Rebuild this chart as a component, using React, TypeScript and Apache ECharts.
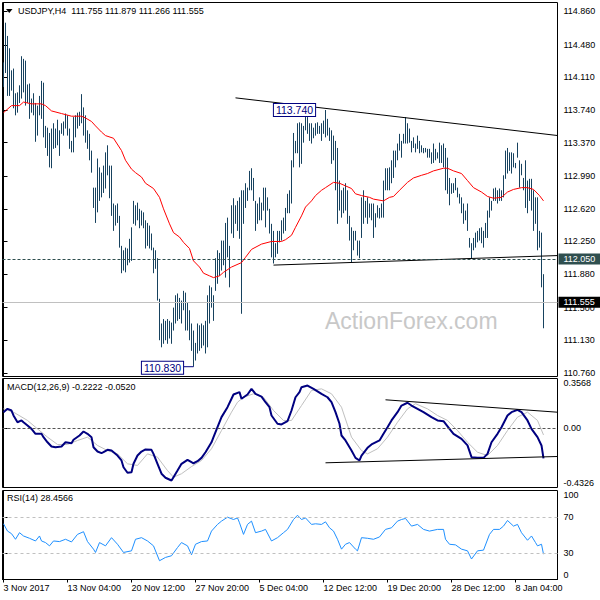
import React, { useEffect, useRef } from "react";
import * as echarts from "echarts";

// ---------- data ----------
const symbolTitle = "USDJPY,H4";
const lastOpen = 111.755;
const lastClose = 111.555;

// bar highs, one per H4 bar (271 bars)
const highs = [
  114.28, 114.73, 114.58, 114.44, 114.19, 114.21, 113.93, 113.94, 114.02, 114.35,
  114.32, 114.30, 114.03, 114.04, 113.87, 113.93, 113.82, 113.79, 113.90, 114.07,
  114.05, 113.56, 113.54, 113.48, 113.53, 113.59, 113.53, 113.63, 113.51, 113.59,
  113.61, 113.70, 113.68, 113.53, 113.39, 113.66, 113.68, 113.71, 113.72, 113.92,
  113.77, 113.68, 113.51, 113.47, 113.28, 112.86, 112.86, 113.19, 113.09, 113.03,
  113.11, 113.26, 113.34, 113.11, 113.11, 112.68, 112.66, 112.68, 112.54, 112.20,
  112.15, 112.18, 112.17, 112.28, 112.41, 112.71, 112.66, 112.69, 112.62, 112.60,
  112.58, 112.49, 112.46, 112.43, 112.34, 112.18, 112.15, 112.06, 111.60, 111.32,
  111.37, 111.35, 111.37, 111.35, 111.33, 111.50, 111.64, 111.66, 111.61, 111.58,
  111.69, 111.67, 111.56, 111.47, 111.32, 111.24, 111.10, 111.32, 111.30, 111.32,
  111.30, 111.35, 111.64, 111.75, 111.73, 111.64, 112.06, 112.15, 112.12, 112.26,
  112.26, 112.46, 112.52, 112.20, 112.66, 112.74, 112.66, 112.71, 112.75, 112.83,
  112.83, 112.91, 112.86, 113.05, 113.08, 112.97, 112.71, 112.68, 112.75, 112.69,
  112.86, 112.86, 112.75, 112.62, 112.45, 112.37, 112.23, 112.37, 112.37, 112.49,
  112.52, 112.63, 112.79, 112.83, 113.17, 113.48, 113.39, 113.59, 113.60, 113.59,
  113.56, 113.70, 113.66, 113.59, 113.59, 113.54, 113.59, 113.60, 113.56, 113.59,
  113.62, 113.74, 113.64, 113.54, 113.51, 113.45, 113.39, 113.31, 112.94, 112.83,
  112.86, 112.91, 112.83, 112.54, 112.41, 112.37, 112.37, 112.26, 112.26, 112.75,
  112.83, 112.71, 112.75, 112.68, 112.68, 112.68, 112.57, 112.66, 112.63, 112.68,
  112.94, 113.08, 113.08, 113.09, 113.17, 113.28, 113.28, 113.36, 113.47, 113.39,
  113.47, 113.66, 113.59, 113.53, 113.39, 113.43, 113.36, 113.45, 113.39, 113.34,
  113.31, 113.31, 113.30, 113.30, 113.26, 113.36, 113.30, 113.26, 113.37, 113.34,
  113.36, 113.31, 113.20, 112.97, 112.91, 112.91, 112.97, 112.86, 112.79, 112.75,
  112.68, 112.60, 112.68, 112.29, 112.23, 112.29, 112.35, 112.37, 112.40, 112.41,
  112.37, 112.46, 112.60, 112.75, 112.71, 112.85, 112.86, 112.83, 112.85, 112.83,
  113.00, 113.28, 113.31, 113.26, 113.26, 113.25, 113.14, 113.37, 113.17, 113.13,
  112.97, 113.17, 112.94, 112.96, 112.96, 112.83, 112.75, 112.75, 112.37, 112.35,
  111.879,
];

const lows = [
  114.00, 114.16, 113.90, 113.90, 113.96, 113.76, 113.68, 113.71, 113.82, 113.87,
  113.94, 113.79, 113.82, 113.64, 113.71, 113.68, 113.38, 113.45, 113.68, 113.64,
  113.43, 113.31, 113.22, 113.09, 113.08, 113.30, 113.31, 113.34, 113.22, 113.47,
  113.45, 113.53, 113.45, 113.30, 113.26, 113.26, 113.43, 113.53, 113.56, 113.59,
  113.45, 113.37, 113.30, 113.17, 113.03, 112.63, 112.46, 112.58, 112.71, 112.75,
  112.80, 112.85, 113.00, 112.74, 112.54, 112.37, 112.43, 112.46, 112.18, 111.89,
  111.92, 111.90, 111.98, 112.01, 112.03, 112.45, 112.43, 112.49, 112.40, 112.43,
  112.40, 112.17, 112.20, 112.17, 112.15, 111.89, 111.94, 111.58, 111.13, 111.05,
  111.09, 111.13, 111.09, 111.15, 111.09, 111.24, 111.32, 111.35, 111.37, 111.32,
  111.47, 111.24, 111.24, 111.13, 111.01, 110.83, 110.90, 110.98, 111.01, 111.04,
  111.07, 110.98, 111.05, 111.32, 111.50, 111.35, 111.69, 111.77, 111.86, 111.92,
  111.98, 111.84, 112.07, 111.73, 112.34, 112.29, 112.45, 112.37, 112.28, 111.43,
  112.45, 112.63, 112.71, 112.83, 112.83, 112.71, 112.37, 112.45, 112.49, 112.49,
  112.60, 112.41, 112.60, 112.34, 112.07, 112.00, 112.07, 112.11, 112.24, 112.26,
  112.34, 112.37, 112.57, 112.57, 112.68, 113.09, 113.25, 113.25, 113.09, 113.13,
  113.37, 113.51, 113.47, 113.39, 113.36, 113.42, 113.45, 113.47, 113.47, 113.39,
  113.47, 113.43, 113.45, 113.39, 113.13, 113.17, 112.83, 112.45, 112.60, 112.52,
  112.57, 112.60, 112.45, 112.26, 112.01, 112.15, 112.26, 112.09, 112.06, 112.29,
  112.45, 112.52, 112.45, 112.52, 112.49, 112.29, 112.41, 112.52, 112.51, 112.52,
  112.52, 112.83, 112.83, 112.83, 112.91, 112.97, 113.09, 113.17, 113.28, 113.20,
  113.36, 113.36, 113.36, 113.37, 113.26, 113.31, 113.26, 113.30, 113.25, 113.26,
  113.25, 113.26, 113.20, 113.20, 113.13, 113.14, 113.17, 113.19, 113.14, 113.14,
  113.09, 112.83, 112.79, 112.66, 112.79, 112.80, 112.83, 112.75, 112.68, 112.57,
  112.45, 112.49, 112.37, 112.18, 112.06, 112.15, 112.18, 112.24, 112.26, 112.23,
  112.18, 112.29, 112.29, 112.52, 112.60, 112.71, 112.71, 112.68, 112.71, 112.71,
  112.75, 112.96, 113.02, 113.05, 113.02, 113.09, 113.08, 113.20, 112.86, 113.00,
  112.83, 112.63, 112.57, 112.71, 112.60, 112.37, 112.45, 112.15, 112.18, 111.73,
  111.266,
];

// moving average [bar, price]
const maPoints = [
  [0, 113.71], [4, 113.79], [8, 113.79], [10, 113.83], [14, 113.81], [19, 113.81], [21, 113.79],
  [24, 113.73], [29, 113.7], [34, 113.67], [39, 113.67], [41, 113.65], [44, 113.61], [46, 113.56],
  [49, 113.49], [51, 113.45], [55, 113.42], [59, 113.28], [61, 113.17], [64, 113.07], [66, 113.03],
  [69, 112.98], [71, 112.91], [75, 112.85], [78, 112.75], [80, 112.62], [83, 112.45], [85, 112.35],
  [88, 112.3], [90, 112.24], [93, 112.17], [95, 112.03], [98, 111.96], [100, 111.89], [103, 111.86],
  [105, 111.84], [108, 111.86], [110, 111.9], [114, 111.96], [119, 112.01], [121, 112.07],
  [124, 112.16], [129, 112.22], [134, 112.25], [139, 112.25], [141, 112.27], [144, 112.32],
  [146, 112.41], [149, 112.54], [151, 112.64], [154, 112.71], [156, 112.77], [159, 112.83],
  [161, 112.86], [165, 112.92], [168, 112.91], [171, 112.88], [174, 112.85], [176, 112.79],
  [179, 112.77], [183, 112.75], [185, 112.73], [190, 112.71], [193, 112.75], [195, 112.76],
  [198, 112.83], [202, 112.92], [205, 112.97], [209, 113.0], [212, 113.02], [215, 113.05],
  [220, 113.08], [222, 113.08], [225, 113.05], [229, 113.02], [232, 112.94], [235, 112.86],
  [239, 112.81], [242, 112.76], [245, 112.74], [249, 112.75], [252, 112.81], [255, 112.84],
  [259, 112.86], [262, 112.86], [265, 112.84], [268, 112.77], [270, 112.71],
];

// MACD main line [bar, value]
const macdPoints = [
  [0, 0.113], [2, 0.137], [4, 0.125], [5, 0.089], [7, 0.04], [9, 0.053], [10, 0.04], [12, 0.016],
  [14, -0.008], [16, -0.044], [19, -0.044], [20, -0.068], [22, -0.105], [24, -0.136], [26, -0.141],
  [29, -0.136], [31, -0.105], [34, -0.112], [35, -0.087], [38, -0.056], [40, -0.027], [42, -0.044],
  [44, -0.068], [45, -0.141], [47, -0.172], [49, -0.184], [50, -0.177], [52, -0.16], [54, -0.165],
  [57, -0.201], [59, -0.237], [60, -0.286], [62, -0.326], [64, -0.322], [65, -0.261], [67, -0.201],
  [69, -0.172], [71, -0.157], [74, -0.16], [75, -0.189], [77, -0.261], [79, -0.333], [81, -0.362],
  [84, -0.382], [85, -0.358], [87, -0.31], [89, -0.261], [92, -0.232], [94, -0.249], [95, -0.257],
  [97, -0.242], [99, -0.218], [101, -0.177], [104, -0.105], [105, -0.068], [107, 0.004], [109, 0.077],
  [112, 0.149], [114, 0.21], [115, 0.241], [118, 0.258], [119, 0.21], [122, 0.241], [124, 0.282],
  [126, 0.246], [129, 0.226], [131, 0.185], [133, 0.149], [134, 0.089], [137, 0.029], [139, 0.024],
  [142, 0.048], [144, 0.125], [146, 0.221], [148, 0.258], [149, 0.294], [152, 0.306], [155, 0.282],
  [159, 0.246], [162, 0.221], [164, 0.185], [166, 0.113], [168, 0.029], [169, -0.056], [171, -0.092],
  [174, -0.165], [176, -0.218], [178, -0.237], [179, -0.201], [182, -0.145], [184, -0.121],
  [188, -0.092], [190, -0.044], [192, 0.004], [194, 0.053], [197, 0.113], [199, 0.161], [202, 0.181],
  [204, 0.161], [207, 0.137], [210, 0.113], [214, 0.077], [217, 0.053], [220, 0.048], [223, -0.008],
  [225, -0.044], [229, -0.08], [232, -0.128], [234, -0.213], [237, -0.218], [240, -0.218],
  [242, -0.189], [244, -0.105], [247, -0.044], [249, 0.004], [252, 0.089], [254, 0.113], [257, 0.13],
  [259, 0.113], [262, 0.053], [264, -0.008], [267, -0.068], [269, -0.128], [270, -0.2222],
];

// MACD signal line [bar, value]
const signalPoints = [
  [0, 0.137], [5, 0.113], [12, 0.053], [17, -0.008], [22, -0.068], [27, -0.121], [32, -0.121],
  [37, -0.092], [42, -0.068], [47, -0.128], [52, -0.165], [57, -0.189], [62, -0.261], [67, -0.273],
  [72, -0.189], [77, -0.213], [82, -0.31], [85, -0.358], [89, -0.333], [94, -0.281], [99, -0.237],
  [104, -0.152], [109, -0.02], [114, 0.113], [117, 0.185], [120, 0.221], [125, 0.246], [130, 0.221],
  [135, 0.125], [140, 0.053], [144, 0.053], [149, 0.161], [154, 0.27], [159, 0.282], [164, 0.246],
  [169, 0.149], [174, -0.068], [179, -0.165], [182, -0.189], [187, -0.152], [192, -0.068],
  [197, 0.04], [202, 0.137], [206, 0.174], [212, 0.137], [217, 0.089], [222, 0.053], [227, -0.02],
  [232, -0.105], [237, -0.177], [242, -0.201], [247, -0.128], [252, -0.02], [257, 0.077],
  [262, 0.113], [267, 0.053], [270, -0.052],
];

// RSI(14) [bar, value]
const rsiPoints = [
  [0, 62.6], [2, 54.4], [4, 51.5], [6, 45.2], [8, 52.6], [10, 48.9], [13, 46.3], [16, 43.3],
  [18, 48.9], [19, 43.3], [21, 41.5], [23, 37.8], [25, 43.3], [28, 42.6], [31, 45.2], [34, 42.2],
  [37, 50.7], [40, 53.7], [42, 42.6], [45, 34.1], [46, 30.4], [48, 41.5], [51, 37.8], [54, 47],
  [57, 39.6], [60, 30.4], [64, 32.2], [66, 45.2], [69, 47], [72, 43.3], [75, 37.8], [78, 21.1],
  [81, 24.8], [84, 26.7], [87, 35.9], [89, 41.5], [92, 37.8], [94, 27.8], [96, 39.6], [99, 42.6],
  [102, 43.3], [104, 54.4], [107, 61.9], [109, 65.6], [112, 70], [115, 67.4], [117, 69.2],
  [118, 63.7], [120, 50.7], [122, 61.9], [124, 65.6], [126, 52.6], [129, 54.4], [131, 56.3],
  [134, 43.3], [137, 47], [140, 52.6], [142, 56.3], [145, 67.4], [147, 72.2], [149, 67.4],
  [151, 69.2], [154, 61.9], [156, 62.6], [159, 61.9], [161, 64.8], [163, 58.1], [165, 54.4],
  [167, 45.2], [169, 34.1], [171, 39.6], [173, 41.5], [176, 34.1], [177, 32.2], [179, 47],
  [182, 46.3], [185, 45.2], [188, 47.8], [191, 56.3], [194, 58.1], [197, 65.6], [199, 67.4],
  [201, 68.6], [204, 60], [207, 61.9], [210, 56.3], [213, 54.4], [217, 56.3], [220, 56.3],
  [221, 45.2], [223, 39.6], [226, 38.9], [229, 34.1], [232, 32.2], [234, 23], [237, 32.2],
  [240, 33], [243, 50.7], [245, 56.3], [248, 56.3], [250, 60], [252, 66.3], [255, 60], [257, 61.9],
  [259, 52.6], [262, 44.1], [264, 48.9], [266, 41.5], [267, 37.8], [269, 39.6], [270, 28.4566],
];

const macdLast = -0.2222;
const signalLast = -0.052;
const rsiLast = 28.4566;

// axes
const priceTicks = [110.76, 111.13, 111.5, 111.88, 112.25, 112.62, 112.99, 113.37, 113.74, 114.11, 114.48, 114.86];
const priceMin = 110.719;
const priceMax = 114.959;
const macdMin = -0.4326;
const macdMax = 0.3568;
const macdTicks = [macdMin, 0, macdMax];
const rsiTicks = [0, 30, 70, 100];
const rsiLevels = [70, 30];
const timeLabels = ["3 Nov 2017", "13 Nov 04:00", "20 Nov 12:00", "27 Nov 20:00", "5 Dec 04:00", "12 Dec 12:00", "19 Dec 20:00", "28 Dec 12:00", "8 Jan 04:00"];
const barsPerLabel = 32;

// drawn objects
const upperTrend = [[116, 113.878], [277, 113.451]];
const lowerTrend = [[135, 111.982], [277, 112.09]];
const macdUpperTrend = [[191, 0.2025], [277, 0.1127]];
const macdLowerTrend = [[161, -0.2537], [277, -0.2081]];
const markedHigh = [161, 113.74];
const markedLow = [95, 110.83];
const lowConnector = [[90, 110.83], [95, 110.83]];
const supportLevel = 112.05;

// ---------- styling ----------
const FONT = '"Liberation Sans", Arial, sans-serif';
const BAR_COLOR = "#17425f";
const X_MIN = -0.5;
const X_MAX = 277;

function buildOption() {
  const tickBars = timeLabels.map((_, k) => k * barsPerLabel);
  const barData = highs.map((h, j) => [j, h, lows[j]]);
  const gridBase = { left: 2.5, right: 42.5, show: true, borderColor: "#000", borderWidth: 1, backgroundColor: "#fff" };

  const yCommon = (customValues: number[], formatter: (v: number) => string, extra: any = {}) => ({
    type: "value",
    position: "right",
    axisLine: { show: true, lineStyle: { color: "#000", width: 1 } },
    axisTick: { show: true, length: 4, customValues, lineStyle: { color: "#000" } },
    axisLabel: { customValues, formatter, margin: 6, fontSize: 9, color: "#000", fontFamily: FONT, ...extra },
    splitLine: { show: false },
  });

  return {
    animation: false,
    backgroundColor: "#fff",
    textStyle: { fontFamily: FONT },
    grid: [
      { ...gridBase, top: 2.5, height: 374 },
      { ...gridBase, top: 378.5, height: 109 },
      { ...gridBase, top: 490.5, height: 89 },
    ],
    xAxis: [0, 1, 2].map((i) => ({
      type: "value",
      gridIndex: i,
      min: X_MIN,
      max: X_MAX,
      show: i === 2,
      axisLine: { show: true, lineStyle: { color: "#000" } },
      axisTick: { show: true, length: 3, customValues: tickBars, lineStyle: { color: "#000" } },
      axisLabel: {
        show: true,
        customValues: tickBars,
        formatter: (v: number) => timeLabels[Math.round(v / barsPerLabel)] ?? "",
        align: "left",
        margin: 4,
        fontSize: 9,
        color: "#000",
        fontFamily: FONT,
      },
      splitLine: { show: false },
    })),
    yAxis: [
      { ...yCommon(priceTicks, (v: number) => v.toFixed(3)), gridIndex: 0, min: priceMin, max: priceMax },
      {
        ...yCommon(macdTicks, (v: number) => (Math.abs(v) < 1e-9 ? "0.00" : v.toFixed(4)), {
          verticalAlignMinLabel: "bottom",
          verticalAlignMaxLabel: "top",
        }),
        gridIndex: 1,
        min: macdMin,
        max: macdMax,
      },
      {
        ...yCommon(rsiTicks, (v: number) => String(v), {
          verticalAlignMinLabel: "bottom",
          verticalAlignMaxLabel: "top",
        }),
        gridIndex: 2,
        min: 0,
        max: 100,
      },
    ],
    graphic: [
      {
        type: "text",
        x: 325,
        y: 321,
        z: 0,
        style: { text: "ActionForex.com", fill: "#c8c8c8", font: `23px ${FONT}`, verticalAlign: "middle" },
        silent: true,
      },
      {
        type: "polygon",
        shape: { points: [[6, 9], [12.5, 9], [9.25, 13]] },
        style: { fill: "#000" },
        z: 100,
      },
      {
        type: "text",
        x: 18,
        y: 11,
        z: 100,
        style: {
          text: `${symbolTitle}  ${lastOpen.toFixed(3)} ${highs[highs.length - 1].toFixed(3)} ${lows[lows.length - 1].toFixed(3)} ${lastClose.toFixed(3)}`,
          fill: "#000",
          font: `9px ${FONT}`,
          verticalAlign: "middle",
        },
      },
      {
        type: "text",
        x: 7,
        y: 387,
        z: 100,
        style: {
          text: `MACD(12,26,9) ${macdLast.toFixed(4)} ${signalLast.toFixed(4)}`,
          fill: "#000",
          font: `9px ${FONT}`,
          verticalAlign: "middle",
        },
      },
      {
        type: "text",
        x: 7,
        y: 498,
        z: 100,
        style: { text: `RSI(14) ${rsiLast.toFixed(4)}`, fill: "#000", font: `9px ${FONT}`, verticalAlign: "middle" },
      },
    ],
    series: [
      {
        type: "custom",
        name: "bars",
        xAxisIndex: 0,
        yAxisIndex: 0,
        data: barData,
        encode: { x: 0, y: [1, 2] },
        clip: true,
        silent: true,
        z: 2,
        renderItem: (_params: any, api: any) => {
          const top = api.coord([api.value(0), api.value(1)]);
          const bot = api.coord([api.value(0), api.value(2)]);
          return {
            type: "line",
            shape: { x1: top[0], y1: top[1], x2: bot[0], y2: bot[1] },
            style: { stroke: BAR_COLOR, lineWidth: 1 },
          };
        },
      },
      {
        type: "line",
        name: "MA",
        xAxisIndex: 0,
        yAxisIndex: 0,
        data: maPoints,
        showSymbol: false,
        silent: true,
        z: 3,
        lineStyle: { color: "#ff0000", width: 1 },
        markLine: {
          silent: true,
          symbol: ["none", "none"],
          animation: false,
          data: [
            {
              yAxis: supportLevel,
              lineStyle: { color: "#2f4f4f", type: [3, 2], width: 1 },
              label: {
                show: true,
                position: "end",
                distance: 1,
                formatter: supportLevel.toFixed(3),
                backgroundColor: "#2f4f4f",
                color: "#fff",
                padding: [1, 6, 1, 5],
                fontSize: 9,
                fontFamily: FONT,
              },
            },
            {
              yAxis: lastClose,
              lineStyle: { color: "#c0c0c0", type: "solid", width: 1 },
              label: {
                show: true,
                position: "end",
                distance: 1,
                formatter: lastClose.toFixed(3),
                backgroundColor: "#000",
                color: "#fff",
                padding: [1, 6, 1, 5],
                fontSize: 9,
                fontFamily: FONT,
              },
            },
          ],
        },
        markPoint: {
          silent: true,
          symbol: "rect",
          symbolSize: 1,
          itemStyle: { color: "rgba(0,0,0,0)" },
          label: {
            show: true,
            position: "inside",
            backgroundColor: "#fff",
            borderColor: "#000080",
            borderWidth: 1,
            color: "#000080",
            fontSize: 10.5,
            fontFamily: FONT,
            padding: [1, 2, 0, 2],
          },
          data: [
            { coord: markedHigh, label: { formatter: markedHigh[1].toFixed(3), offset: [-31, 0] } },
            { coord: markedLow, label: { formatter: markedLow[1].toFixed(3), offset: [-31, 1] } },
          ],
        },
      },
      {
        type: "line",
        xAxisIndex: 0,
        yAxisIndex: 0,
        data: upperTrend,
        showSymbol: false,
        silent: true,
        z: 4,
        lineStyle: { color: "#000", width: 1 },
      },
      {
        type: "line",
        xAxisIndex: 0,
        yAxisIndex: 0,
        data: lowerTrend,
        showSymbol: false,
        silent: true,
        z: 4,
        lineStyle: { color: "#000", width: 1 },
      },
      {
        type: "line",
        xAxisIndex: 0,
        yAxisIndex: 0,
        data: lowConnector,
        showSymbol: false,
        silent: true,
        z: 4,
        lineStyle: { color: "#000080", width: 1 },
      },
      {
        type: "line",
        name: "signal",
        xAxisIndex: 1,
        yAxisIndex: 1,
        data: signalPoints,
        showSymbol: false,
        silent: true,
        z: 2,
        lineStyle: { color: "#c0c0c0", width: 1 },
        markLine: {
          silent: true,
          symbol: ["none", "none"],
          label: { show: false },
          lineStyle: { color: "#555", type: [3, 2], width: 1 },
          data: [{ yAxis: 0 }],
        },
      },
      {
        type: "line",
        name: "MACD",
        xAxisIndex: 1,
        yAxisIndex: 1,
        data: macdPoints,
        showSymbol: false,
        silent: true,
        z: 3,
        lineStyle: { color: "#000080", width: 2 },
      },
      {
        type: "line",
        xAxisIndex: 1,
        yAxisIndex: 1,
        data: macdUpperTrend,
        showSymbol: false,
        silent: true,
        z: 4,
        lineStyle: { color: "#000", width: 1 },
      },
      {
        type: "line",
        xAxisIndex: 1,
        yAxisIndex: 1,
        data: macdLowerTrend,
        showSymbol: false,
        silent: true,
        z: 4,
        lineStyle: { color: "#000", width: 1 },
      },
      {
        type: "line",
        name: "RSI",
        xAxisIndex: 2,
        yAxisIndex: 2,
        data: rsiPoints,
        showSymbol: false,
        silent: true,
        z: 3,
        lineStyle: { color: "#1e90ff", width: 1 },
        markLine: {
          silent: true,
          symbol: ["none", "none"],
          label: { show: false },
          lineStyle: { color: "#c0c0c0", type: [3, 3], width: 1 },
          data: rsiLevels.map((v) => ({ yAxis: v })),
        },
      },
    ],
  };
}

export default function App() {
  const ref = useRef<HTMLDivElement>(null);
  useEffect(() => {
    if (!ref.current) return;
    const chart = echarts.init(ref.current, null, { renderer: "svg" });
    chart.setOption(buildOption() as any);
    return () => chart.dispose();
  }, []);
  return <div ref={ref} style={{ position: "absolute", left: 0, top: 0, width: 600, height: 600 }} />;
}
